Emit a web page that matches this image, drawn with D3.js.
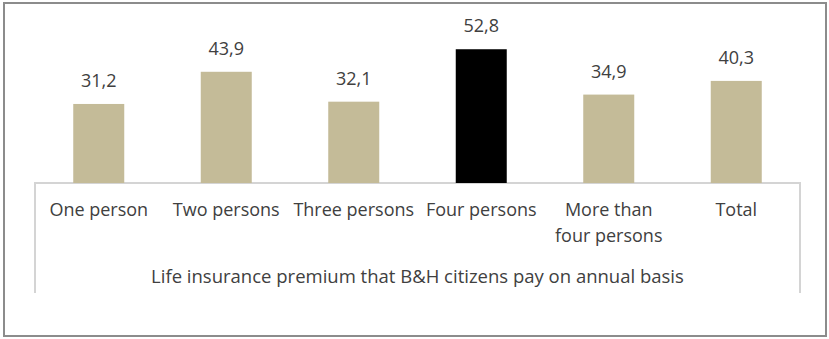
<!DOCTYPE html>
<html lang="en">
<head>
  <meta charset="UTF-8" />
  <title>Life insurance premium</title>
  <style>
    body { margin: 0; background: #fff; }
    svg text { font-family: "Open Sans", sans-serif; fill: #404040; }
  </style>
</head>
<body>
  <div id="chart"></div>
  <script src="https://d3js.org/d3.v7.min.js"></script>
  <script>
    // data
    const categories = [['One person'], ['Two persons'], ['Three persons'], ['Four persons'], ['More than', 'four persons'], ['Total']];
    const values = [31.2, 43.9, 32.1, 52.8, 34.9, 40.3];
    const highlight = 3; // the black bar
    const axisTitle = 'Life insurance premium that B&H citizens pay on annual basis';

    const width = 829, height = 339;
    const plotLeft = 35, plotRight = 800, base = 183, plotTop = 31;

    const svg = d3.select('#chart').append('svg')
      .attr('width', width)
      .attr('height', height);

    // outer frame
    svg.append('rect')
      .attr('x', 4).attr('y', 3)
      .attr('width', 822).attr('height', 333)
      .attr('fill', 'none')
      .attr('stroke', '#8c8c8c')
      .attr('stroke-width', 2);

    const x = d3.scaleBand()
      .domain(d3.range(values.length))
      .range([plotLeft, plotRight])
      .paddingInner(0.6)
      .paddingOuter(0.3);

    const y = d3.scaleLinear()
      .domain([0, 60])
      .range([base, plotTop]);

    // box round the category labels
    svg.append('path')
      .attr('d', `M${plotLeft},293V${base}H${plotRight}V293`)
      .attr('fill', 'none')
      .attr('stroke', '#d4d4d4')
      .attr('stroke-width', 2);

    svg.selectAll('rect.bar')
      .data(values)
      .enter()
      .append('rect')
      .attr('class', 'bar')
      .attr('x', (d, i) => x(i))
      .attr('width', x.bandwidth())
      .attr('y', d => y(d))
      .attr('height', d => base - y(d))
      .attr('fill', (d, i) => i === highlight ? '#000' : '#c4bb98');

    svg.selectAll('text.val')
      .data(values)
      .enter()
      .append('text')
      .attr('class', 'val')
      .attr('x', (d, i) => x(i) + x.bandwidth() / 2)
      .attr('y', d => y(d) - 17)
      .attr('text-anchor', 'middle')
      .attr('font-size', 18)
      .text(d => d3.format('.1f')(d).replace('.', ','));

    const cat = svg.selectAll('text.cat')
      .data(categories)
      .enter()
      .append('text')
      .attr('class', 'cat')
      .attr('text-anchor', 'middle')
      .attr('font-size', 18)
      .attr('x', (d, i) => x(i) + x.bandwidth() / 2)
      .attr('y', 216);
    cat.selectAll('tspan')
      .data(d => d)
      .enter()
      .append('tspan')
      .attr('x', function () { return this.parentNode.getAttribute('x'); })
      .attr('dy', (d, i) => i === 0 ? 0 : 26)
      .text(d => d);

    svg.append('text')
      .attr('x', (plotLeft + plotRight) / 2)
      .attr('y', 283)
      .attr('text-anchor', 'middle')
      .attr('font-size', 18.5)
      .text(axisTitle);
  </script>
</body>
</html>
